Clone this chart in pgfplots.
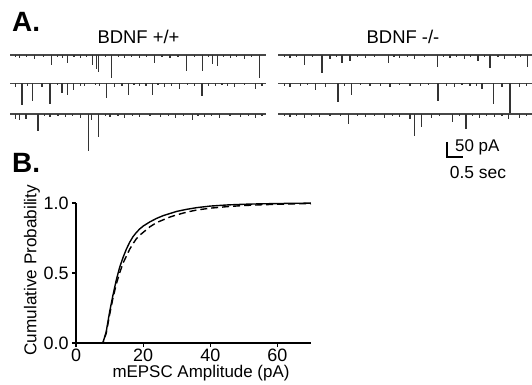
\documentclass[border=0pt]{standalone}
\usepackage{pgfplots}
\usepackage{pgfplotstable}
\pgfplotsset{compat=1.18}
\usepackage{fontspec}
\setmainfont{Liberation Sans}

% ---- Panel A: mEPSC events (t in s, amplitude in pA, negative = inward) ----
\pgfplotstableread{
t v
0.16 -6
0.31 -10
0.53 -7
0.78 -13
1.06 -6
1.31 -33
1.47 -7
1.63 -10
1.81 -27
2.00 -6
2.19 -10
2.38 -7
2.59 -33
2.69 -47
2.78 -57
2.97 -6
3.16 -77
3.38 -7
3.59 -10
3.81 -6
4.06 -10
4.28 -7
4.53 -27
4.75 -6
5.00 -10
5.25 -7
5.53 -53
5.78 -6
6.03 -53
6.19 -7
6.34 -30
6.47 -37
6.66 -6
6.88 -10
7.09 -7
7.34 -13
7.56 -6
7.81 -77
}\Lone
\pgfplotstableread{
t v
0.16 -13
0.375 -73
0.56 -7
0.69 -57
1.00 -13
1.25 -67
1.47 -6
1.625 -33
1.81 -40
1.97 -23
2.19 -7
2.34 -10
2.66 -6
2.81 -8
3.03 -47
3.28 -13
3.50 -7
3.69 -37
3.875 -6
4.06 -10
4.25 -7
4.44 -40
4.625 -6
4.84 -13
5.06 -7
5.31 -17
5.56 -6
5.78 -8
6.00 -43
6.19 -7
6.41 -10
6.625 -6
6.81 -7
7.03 -13
7.34 -6
7.66 -17
7.875 -10
}\Ltwo
\pgfplotstableread{
t v
0.16 -17
0.31 -20
0.50 -17
0.875 -57
1.09 -6
1.25 -10
1.50 -7
1.72 -10
1.94 -6
2.19 -13
2.44 -123
2.56 -20
2.78 -77
2.97 -6
3.125 -10
3.375 -7
3.59 -13
3.84 -6
4.06 -10
4.375 -7
4.69 -10
4.94 -6
5.16 -13
5.41 -7
5.69 -20
5.875 -6
6.09 -10
6.31 -7
6.56 -13
6.875 -6
7.19 -10
7.44 -7
7.66 -13
7.875 -6
}\Lthree
\pgfplotstableread{
t v
0.19 -6
0.375 -10
0.59 -7
0.84 -33
1.09 -6
1.375 -60
1.625 -13
1.84 -7
2.00 -27
2.25 -20
2.47 -6
2.72 -10
3.03 -7
3.44 -27
3.625 -6
3.81 -10
4.06 -7
4.28 -13
4.59 -6
4.97 -40
5.16 -7
5.375 -10
5.59 -6
5.84 -13
6.03 -7
6.25 -20
6.44 -6
6.625 -43
6.875 -7
7.09 -13
7.41 -10
7.59 -6
7.81 -40
}\Rone
\pgfplotstableread{
t v
0.19 -7
0.375 -13
0.69 -10
0.91 -6
1.16 -23
1.47 -13
1.875 -63
2.09 -7
2.31 -37
2.59 -6
2.875 -10
3.19 -7
3.50 -13
3.81 -6
4.125 -10
4.44 -7
4.69 -6
5.00 -57
5.28 -7
5.53 -13
5.75 -6
6.00 -10
6.19 -7
6.375 -17
6.72 -70
7.00 -13
7.25 -97
7.56 -13
7.78 -7
}\Rtwo
\pgfplotstableread{
t v
0.19 -6
0.375 -10
0.59 -7
0.84 -13
1.06 -6
1.31 -10
1.625 -7
1.94 -6
2.19 -33
2.47 -7
2.72 -10
3.03 -6
3.34 -13
3.59 -7
3.81 -10
4.125 -17
4.28 -73
4.47 -43
4.81 -13
5.06 -6
5.44 -27
5.66 -7
5.875 -50
6.09 -6
6.31 -13
6.53 -7
6.78 -10
7.00 -6
7.19 -17
7.56 -13
7.78 -7
}\Rthree

% ---- Panel B: cumulative probability ----
\pgfplotstableread{
x y
0 0
8 0
9 0.08
10 0.22
11 0.34
12 0.45
13 0.54
14 0.61
15 0.67
16 0.72
17 0.76
18 0.79
19 0.815
20 0.835
22 0.865
24 0.89
26 0.91
28 0.925
30 0.94
33 0.955
36 0.967
40 0.978
45 0.986
50 0.991
55 0.994
60 0.996
65 0.998
70 0.999
}\WT
\pgfplotstableread{
x y
0 0
8 0
9 0.07
10 0.20
11 0.32
12 0.42
13 0.50
14 0.57
15 0.62
16 0.67
17 0.71
18 0.745
19 0.77
20 0.79
22 0.83
24 0.86
26 0.88
28 0.90
30 0.915
33 0.935
36 0.95
40 0.963
45 0.974
50 0.982
55 0.987
60 0.991
65 0.994
70 0.996
}\KO

\begin{document}
\begin{tikzpicture}
\useasboundingbox (0bp,0bp) rectangle (532bp,385bp);
\pgfplotsset{
  traceaxis/.style={
    x=32bp, y=0.3bp, xmin=0, xmax=8, ymin=-360, ymax=20,
    hide axis, clip=false, anchor=south west},
  base/.style={black!72, line width=1.7bp},
  spike/.style={black!80, line width=1.05bp, quiver={u=0,v=\thisrow{v}}},
}
% left traces (BDNF +/+)
\begin{axis}[traceaxis, at={(10bp,222bp)}]
\addplot[base] coordinates {(0,0) (8,0)};
\addplot[base] coordinates {(0,-95) (8,-95)};
\addplot[base] coordinates {(0,-197) (8,-197)};
\addplot[spike] table[x=t, y expr=0] {\Lone};
\addplot[spike] table[x=t, y expr=-95] {\Ltwo};
\addplot[spike] table[x=t, y expr=-197] {\Lthree};
\end{axis}
% right traces (BDNF -/-)
\begin{axis}[traceaxis, at={(278bp,222bp)}]
\addplot[base] coordinates {(0,0) (7.95,0)};
\addplot[base] coordinates {(0,-95) (7.95,-95)};
\addplot[base] coordinates {(0,-197) (7.95,-197)};
\addplot[spike] table[x=t, y expr=0] {\Rone};
\addplot[spike] table[x=t, y expr=-95] {\Rtwo};
\addplot[spike] table[x=t, y expr=-197] {\Rthree};
% scale bar: 50 pA, 0.5 s
\addplot[black, line width=1.2bp] coordinates {(5.28,-290) (5.28,-340) (5.78,-340)};
\end{axis}

\node[font=\fontsize{18.5}{21}\selectfont, anchor=center] at (138.5bp,348bp) {BDNF +/+};
\node[font=\fontsize{18.5}{21}\selectfont, anchor=center] at (403bp,348bp) {BDNF -/-};
\node[font=\fontsize{17}{20}\selectfont, anchor=west, inner sep=0pt] at (455bp,238bp) {50 pA};
\node[font=\fontsize{17.5}{20}\selectfont, anchor=center, inner sep=0pt] at (478bp,212bp) {0.5 sec};
\node[font=\fontsize{28}{30}\selectfont\bfseries, anchor=base west, inner sep=0pt] at (12bp,353bp) {A.};
\node[font=\fontsize{28}{30}\selectfont\bfseries, anchor=base west, inner sep=0pt] at (12bp,212bp) {B.};

\begin{axis}[
  at={(76bp,42bp)}, anchor=south west,
  scale only axis, width=235bp, height=140bp,
  xmin=0, xmax=70, ymin=0, ymax=1,
  axis x line*=bottom, axis y line*=left,
  axis line style={line width=1.2bp, -},
  every tick/.style={line width=1.2bp, black},
  tick align=outside, major tick length=4bp,
  xtick={0,20,40,60}, ytick={0,0.5,1},
  yticklabels={0.0,0.5,1.0},
  /pgf/number format/assume math mode=true,
  ticklabel style={font=\fontsize{18}{20}\selectfont},
  xticklabel style={inner sep=1bp, yshift=-1bp},
  clip=false,
]
\addplot[black, line width=1.4bp] table[x=x, y=y] {\WT};
\addplot[black, line width=1.4bp, dash pattern=on 7bp off 4bp] table[x=x, y=y] {\KO};
\node[font=\fontsize{17}{20}\selectfont, anchor=base, inner sep=0pt] at (axis description cs:0.532,-0.25) {mEPSC Amplitude (pA)};
\node[font=\fontsize{17.2}{20}\selectfont, anchor=center, rotate=90] at (axis description cs:-0.187,0.52) {Cumulative Probability};
\end{axis}
\end{tikzpicture}
\end{document}
